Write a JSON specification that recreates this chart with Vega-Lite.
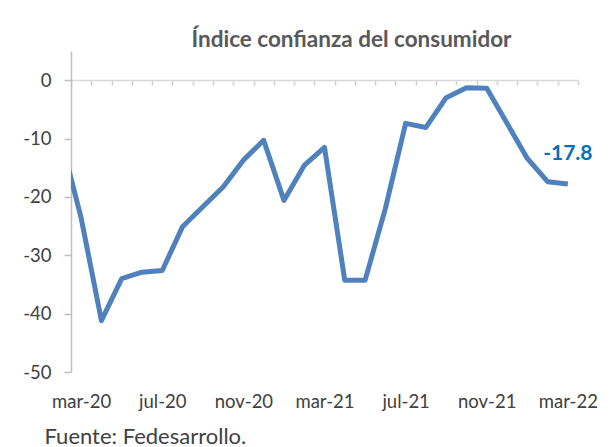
{
  "$schema": "https://vega.github.io/schema/vega-lite/v6.json",
  "autosize": {"type": "none"},
  "width": 507,
  "height": 321,
  "padding": {"left": 71, "top": 51, "right": 35, "bottom": 75},
  "background": "white",
  "config": {"view": {"stroke": null}, "font": "Lato"},
  "title": {
    "text": "Índice confianza del consumidor",
    "font": "Lato",
    "fontSize": 22.5,
    "fontWeight": "bold",
    "color": "#595959",
    "anchor": "middle",
    "frame": "group",
    "dx": 27,
    "offset": 0
  },
  "data": {
    "values": [
      {"mes": "feb-20", "n": -1, "icc": -10.0},
      {"mes": "mar-20", "n": 0, "icc": -23.6},
      {"mes": "abr-20", "n": 1, "icc": -41.2},
      {"mes": "may-20", "n": 2, "icc": -34.0},
      {"mes": "jun-20", "n": 3, "icc": -32.9},
      {"mes": "jul-20", "n": 4, "icc": -32.6},
      {"mes": "ago-20", "n": 5, "icc": -25.1},
      {"mes": "sep-20", "n": 6, "icc": -21.7},
      {"mes": "oct-20", "n": 7, "icc": -18.3},
      {"mes": "nov-20", "n": 8, "icc": -13.7},
      {"mes": "dic-20", "n": 9, "icc": -10.3},
      {"mes": "ene-21", "n": 10, "icc": -20.6},
      {"mes": "feb-21", "n": 11, "icc": -14.6},
      {"mes": "mar-21", "n": 12, "icc": -11.5},
      {"mes": "abr-21", "n": 13, "icc": -34.3},
      {"mes": "may-21", "n": 14, "icc": -34.3},
      {"mes": "jun-21", "n": 15, "icc": -22.0},
      {"mes": "jul-21", "n": 16, "icc": -7.4},
      {"mes": "ago-21", "n": 17, "icc": -8.1},
      {"mes": "sep-21", "n": 18, "icc": -3.0},
      {"mes": "oct-21", "n": 19, "icc": -1.3},
      {"mes": "nov-21", "n": 20, "icc": -1.4},
      {"mes": "dic-21", "n": 21, "icc": -7.4},
      {"mes": "ene-22", "n": 22, "icc": -13.4},
      {"mes": "feb-22", "n": 23, "icc": -17.4},
      {"mes": "mar-22", "n": 24, "icc": -17.8}
    ]
  },
  "resolve": {"axis": {"x": "independent"}},
  "layer": [
    {
      "mark": {"type": "line", "color": "#4F81BD", "strokeWidth": 5, "clip": true, "strokeJoin": "round"},
      "encoding": {
        "x": {
          "field": "n", "type": "quantitative",
          "scale": {"domain": [-0.5, 24.5], "nice": false, "zero": false},
          "axis": {
            "orient": "bottom",
            "values": [0, 4, 8, 12, 16, 20, 24],
            "labelExpr": "['ene','feb','mar','abr','may','jun','jul','ago','sep','oct','nov','dic'][(datum.value + 2) % 12] + '-' + (20 + floor((datum.value + 2) / 12))",
            "domain": false, "ticks": false, "grid": false,
            "labelFont": "Lato", "labelFontSize": 18.5, "labelColor": "#404040",
            "labelPadding": 20,
            "title": "Fuente: Fedesarrollo.",
            "titleFont": "Lato", "titleFontSize": 22, "titleFontWeight": "normal", "titleColor": "#404040",
            "titleAnchor": "start", "titleAlign": "left", "titleBaseline": "middle",
            "titleX": -27, "titleY": 64
          }
        },
        "y": {
          "field": "icc", "type": "quantitative",
          "scale": {"domain": [-50, 5], "nice": false},
          "axis": {
            "values": [-50, -40, -30, -20, -10, 0],
            "labelExpr": "toString(datum.value)",
            "grid": false,
            "domainColor": "#bfbfbf", "domainWidth": 1.5,
            "tickColor": "#bfbfbf", "tickSize": 7, "tickWidth": 1.5,
            "labelFont": "Lato", "labelFontSize": 18.5, "labelColor": "#404040",
            "labelPadding": 13,
            "title": null
          }
        }
      }
    },
    {
      "transform": [{"filter": "datum.n == 24"}],
      "mark": {"type": "text", "color": "#0070C0", "font": "Lato", "fontSize": 21, "fontWeight": "bold", "dy": -30, "align": "center"},
      "encoding": {
        "x": {
          "field": "n", "type": "quantitative",
          "axis": {
            "orient": "top",
            "offset": -29,
            "values": [-0.5, 0.5, 1.5, 2.5, 3.5, 4.5, 5.5, 6.5, 7.5, 8.5, 9.5, 10.5, 11.5, 12.5, 13.5, 14.5, 15.5, 16.5, 17.5, 18.5, 19.5, 20.5, 21.5, 22.5, 23.5, 24.5],
            "labels": false, "grid": false,
            "domainColor": "#d9d9d9", "domainWidth": 1.5,
            "tickColor": "#d0d0d0", "tickSize": -5, "tickWidth": 1.5,
            "title": null
          }
        },
        "y": {"field": "icc", "type": "quantitative"},
        "text": {"field": "icc", "type": "nominal"}
      }
    }
  ]
}
